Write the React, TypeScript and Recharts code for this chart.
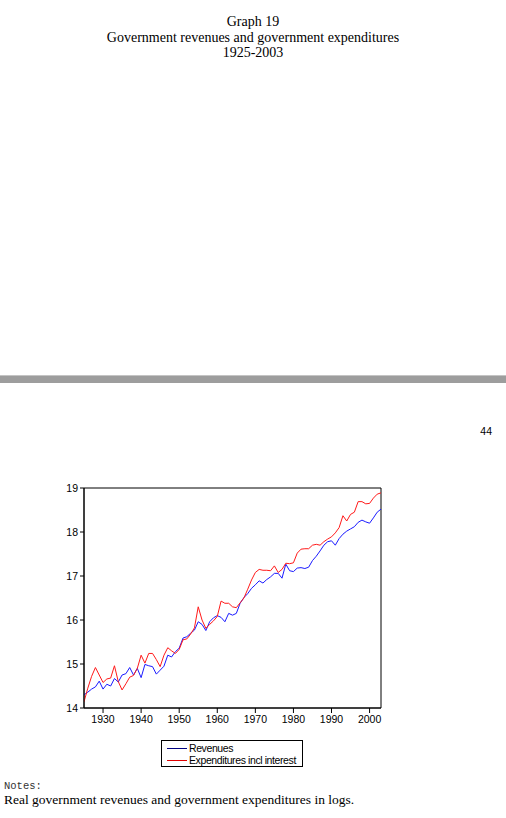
import React from "react";
import { LineChart, Line, XAxis, YAxis, ReferenceArea } from "recharts";

// annual values, logs of real government revenues / expenditures
const YEARS = Array.from({ length: 79 }, (_, i) => 1925 + i);

const REVENUES = [
  14.3, 14.36, 14.43, 14.48, 14.61, 14.43, 14.54, 14.5, 14.67, 14.59,
  14.75, 14.78, 14.92, 14.75, 14.9, 14.69, 14.99, 14.96, 14.94, 14.77,
  14.86, 14.95, 15.2, 15.16, 15.28, 15.36, 15.59, 15.62, 15.7, 15.77,
  15.96, 15.9, 15.76, 15.96, 16.05, 16.1, 16.06, 15.96, 16.15, 16.11,
  16.15, 16.38, 16.51, 16.6, 16.72, 16.8, 16.89, 16.84, 16.92, 16.98,
  17.06, 17.06, 16.95, 17.27, 17.12, 17.1, 17.18, 17.19, 17.17, 17.2,
  17.35, 17.45, 17.57, 17.7, 17.78, 17.8, 17.7, 17.85, 17.95, 18.02,
  18.07, 18.12, 18.22, 18.27, 18.23, 18.2, 18.32, 18.45, 18.52,
];

const EXPENDITURES = [
  14.14, 14.45, 14.72, 14.92, 14.75, 14.58, 14.66, 14.68, 14.96, 14.6,
  14.41, 14.55, 14.7, 14.74, 14.9, 15.2, 15.02, 15.24, 15.24, 15.1,
  14.94, 15.2, 15.37, 15.3, 15.24, 15.33, 15.55, 15.57, 15.68, 15.82,
  16.3, 16.0, 15.81, 15.9, 15.98, 16.08, 16.43, 16.38, 16.38, 16.3,
  16.28, 16.39, 16.5, 16.7, 16.91, 17.08, 17.15, 17.13, 17.13, 17.12,
  17.23, 17.08, 17.15, 17.29, 17.28, 17.3, 17.52, 17.61, 17.62, 17.62,
  17.7, 17.72, 17.7, 17.78, 17.84, 17.89, 17.98, 18.1, 18.37, 18.25,
  18.4, 18.45, 18.69, 18.69, 18.64, 18.65, 18.77, 18.86, 18.89,
];

const X_TICKS = [1930, 1940, 1950, 1960, 1970, 1980, 1990, 2000];
const Y_TICKS = [14, 15, 16, 17, 18, 19];

const SERIES = [
  { key: "rev", name: "Revenues", color: "#1a1aff", legendColor: "#000080" },
  { key: "exp", name: "Expenditures incl interest", color: "#ff1a1a", legendColor: "#e00000" },
];

const rows = YEARS.map((year, i) => ({ year, rev: REVENUES[i], exp: EXPENDITURES[i] }));

const SANS = "'Liberation Sans', Arial, sans-serif";
const SERIF = "'Liberation Serif', 'Times New Roman', serif";
const tickStyle = { fontSize: 10.5, fill: "#000", fontFamily: SANS };

export default function App() {
  return (
    <div style={{ position: "absolute", top: 0, left: 0, width: 506, height: 818, background: "#fff", overflow: "hidden", fontFamily: SERIF, color: "#000" }}>
      <div style={{ position: "absolute", top: 14, left: 0, width: 506, textAlign: "center", fontSize: 14, lineHeight: "15.5px" }}>
        <div>Graph 19</div>
        <div>Government revenues and government expenditures</div>
        <div>1925-2003</div>
      </div>

      <div style={{ position: "absolute", top: 375, left: 0, width: 506, height: 8, background: "#9d9d9d", borderTop: "1px solid #c4c4c4", boxSizing: "border-box" }} />

      <div style={{ position: "absolute", top: 425, right: 14, fontSize: 10.5, fontFamily: SANS, lineHeight: "12px" }}>44</div>

      <div style={{ position: "absolute", top: 470, left: 0 }}>
        <LineChart width={506} height={300} data={rows} margin={{ top: 18, right: 125, bottom: 32, left: 0 }}>
          <XAxis
            dataKey="year"
            type="number"
            domain={[1925, 2003]}
            ticks={X_TICKS}
            tick={tickStyle}
            tickSize={5}
            tickMargin={3}
            height={30}
            stroke="#000"
            allowDataOverflow
          />
          <YAxis
            domain={[14, 19]}
            ticks={Y_TICKS}
            tick={tickStyle}
            tickSize={4}
            tickMargin={2}
            width={84}
            stroke="#000"
          />
          <ReferenceArea x1={1925} x2={2003} y1={14} y2={19} fill="none" stroke="#000" strokeWidth={1} ifOverflow="visible" />
          {SERIES.map((s) => (
            <Line
              key={s.key}
              type="linear"
              dataKey={s.key}
              name={s.name}
              stroke={s.color}
              strokeWidth={1}
              dot={false}
              isAnimationActive={false}
            />
          ))}
        </LineChart>
      </div>

      <div style={{ position: "absolute", top: 740, left: 161, width: 142, height: 27, border: "1px solid #000", boxSizing: "border-box", fontFamily: SANS, fontSize: 10.5, letterSpacing: "-0.4px", padding: "1px 0 0 5px" }}>
        {SERIES.map((s) => (
          <div key={s.key} style={{ position: "relative", height: 12, lineHeight: "12px", paddingLeft: 22, whiteSpace: "nowrap" }}>
            <span style={{ position: "absolute", left: 0, top: 6, width: 20, height: 1, background: s.legendColor }} />
            {s.name}
          </div>
        ))}
      </div>

      <div style={{ position: "absolute", top: 780, left: 4, fontFamily: "'Liberation Mono', 'Courier New', monospace", fontSize: 10.5, lineHeight: "12px", color: "#333" }}>
        Notes:
      </div>
      <div style={{ position: "absolute", top: 792, left: 4, fontSize: 13.5, lineHeight: "15px", whiteSpace: "nowrap" }}>
        Real government revenues and government expenditures in logs.
      </div>
    </div>
  );
}
